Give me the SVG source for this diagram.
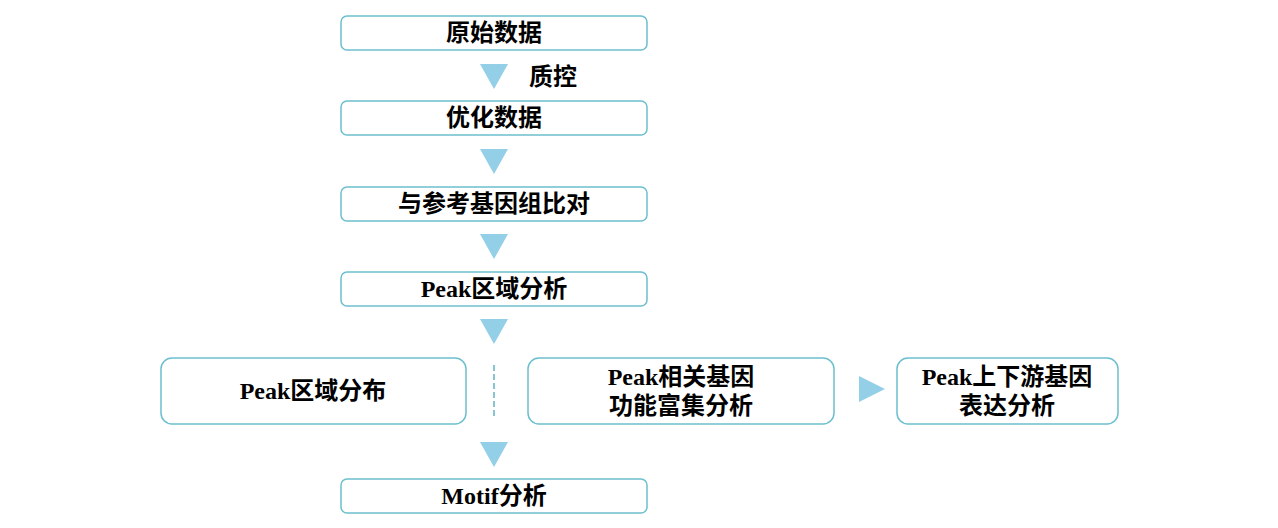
<svg xmlns="http://www.w3.org/2000/svg" width="1278" height="528" viewBox="0 0 1278 528">
<style>
.box{fill:#fff;stroke:#6cbfce;stroke-width:1.5}
.tri{fill:#93cfe7}
.t{font-family:"Liberation Serif","Noto Sans CJK SC",serif;font-weight:bold;font-size:24px;fill:#000;text-anchor:middle;dominant-baseline:central}
</style>
<rect width="1278" height="528" fill="#fff"/>
<g id="n1"><rect class="box" x="341" y="16" width="306" height="34" rx="6"/><text class="t" x="494" y="33">原始数据</text></g>
<g id="n2"><rect class="box" x="341" y="101" width="306" height="34" rx="6"/><text class="t" x="494" y="118">优化数据</text></g>
<g id="n3"><rect class="box" x="341" y="187" width="306" height="34" rx="6"/><text class="t" x="494" y="204">与参考基因组比对</text></g>
<g id="n4"><rect class="box" x="341" y="272" width="306" height="34" rx="6"/><text class="t" x="494" y="289">Peak区域分析</text></g>
<g id="n5"><rect class="box" x="161" y="358" width="305" height="66" rx="11"/><text class="t" x="313" y="391">Peak区域分布</text></g>
<g id="n6"><rect class="box" x="528" y="358" width="306" height="66" rx="11"/><text class="t" x="681" y="377">Peak相关基因</text><text class="t" x="681" y="406">功能富集分析</text></g>
<g id="n7"><rect class="box" x="897" y="358" width="221" height="66" rx="11"/><text class="t" x="1007" y="377">Peak上下游基因</text><text class="t" x="1007" y="406">表达分析</text></g>
<g id="n8"><rect class="box" x="341" y="479" width="306" height="34" rx="6"/><text class="t" x="494" y="496">Motif分析</text></g>
<g id="connectors">
<polygon class="tri" points="480,64 508,64 494,89"/>
<polygon class="tri" points="480,149 508,149 494,174"/>
<polygon class="tri" points="480,234 508,234 494,259"/>
<polygon class="tri" points="480,319 508,319 494,344"/>
<polygon class="tri" points="480,442 508,442 494,467"/>
<polygon class="tri" points="859,376 885,389 859,402"/>
<line x1="494" y1="365" x2="494" y2="419" stroke="#5fb3c4" stroke-width="1.5" stroke-dasharray="6,3"/>
<text class="t" x="553" y="77">质控</text>
</g>
</svg>
